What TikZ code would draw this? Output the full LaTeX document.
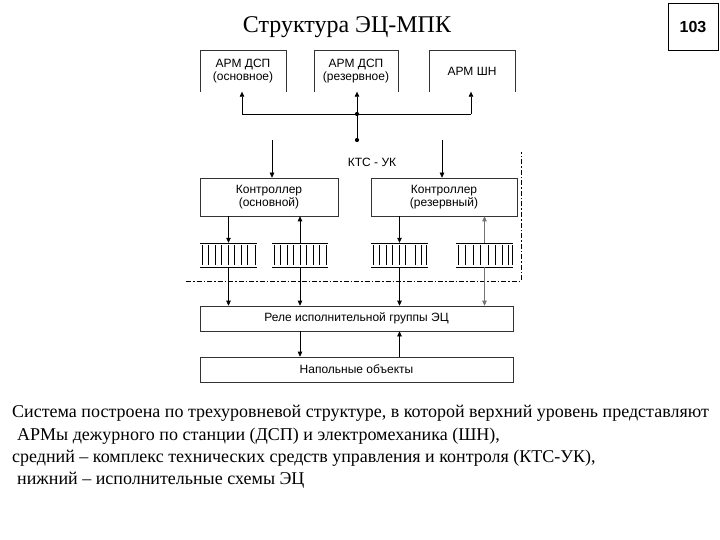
\documentclass[tikz,border=0pt]{standalone}
\usepackage{fontspec}
\setmainfont{Liberation Serif}
\newfontfamily\arial{Liberation Sans}
\usetikzlibrary{arrows.meta}
\begin{document}
\begin{tikzpicture}[x=1pt,y=-1pt,
  lbl/.style={font=\arial\fontsize{12}{13.5}\selectfont, align=center, inner sep=0pt},
  box/.style={lbl, draw=black!80, line width=0.6pt},
  openbox/.style={lbl},
  arr/.style={-{Triangle[length=5pt,width=4.5pt]}, line width=0.6pt},
  ln/.style={line width=0.6pt},
  reg/.style={inner sep=0pt, minimum height=24pt},
  para/.style={anchor=west, inner sep=0pt, font=\fontsize{18}{20}\selectfont},
  dot/.style={circle, fill=black, inner sep=0pt, minimum size=4.2pt}
]
\useasboundingbox (0,0) rectangle (720,540);

% title and page number
\node[font=\fontsize{24}{26}\selectfont, inner sep=0pt] (title) at (347,27) {Структура ЭЦ-МПК};
\node[draw, line width=1pt, minimum width=50pt, minimum height=47pt, inner sep=0pt,
      font=\arial\bfseries\fontsize{16}{18}\selectfont] (pg) at (693,27) {103};

% ARM boxes (open at the bottom)
\node[openbox, minimum width=86pt, minimum height=41pt] (a1) at (243,71) {АРМ ДСП\\(основное)};
\node[openbox, minimum width=84pt, minimum height=41pt] (a2) at (356,71) {АРМ ДСП\\(резервное)};
\node[openbox, minimum width=86pt, minimum height=41pt] (a3) at (472,71) {АРМ ШН};
\foreach \n in {a1,a2,a3}{
  \draw[ln, draw=black!80] (\n.south west) -- (\n.north west) -- (\n.north east) -- (\n.south east);
}

% bus
\coordinate (j1) at (242,114);
\coordinate (j3) at (471,114);
\coordinate (jc) at (357,114);
\coordinate (kc) at (357,140);
\draw[ln] (j1) -- (j3);
\draw[arr] (j1) -- (j1 |- a1.south);
\draw[arr] (jc) -- (jc |- a2.south);
\draw[arr] (j3) -- (j3 |- a3.south);
\draw[ln] (jc) -- (kc);
\node[dot] (j) at (jc) {};
\node[dot] (k) at (kc) {};

\node[lbl] (kts) at (372,162) {КТС - УК};

% controllers
\node[box, minimum width=138pt, minimum height=38pt] (c1) at (269,197) {Контроллер\\(основной)};
\node[box, minimum width=146pt, minimum height=38pt] (c2) at (444,197) {Контроллер\\(резервный)};
\coordinate (t1) at (272,140);
\coordinate (t2) at (442,140);
\draw[arr] (t1) -- (t1 |- c1.north);
\draw[arr] (t2) -- (t2 |- c2.north);

% registers
\node[reg, minimum width=57pt] (r1) at (228.5,255) {};
\node[reg, minimum width=56pt] (r2) at (300,255) {};
\node[reg, minimum width=57pt] (r3) at (399.5,255) {};
\node[reg, minimum width=57pt] (r4) at (484.5,255) {};
\foreach \n in {r1,r2,r3,r4}{
  \draw[ln] (\n.north west) -- (\n.north east);
  \draw[ln] (\n.south west) -- (\n.south east);
}
\foreach \x in {202,208.5,215,221.5,228,234.5,241,247.5,255}
  \draw[line width=0.5pt] (\x,245) -- (\x,265);
\foreach \x in {274,280.5,287,293.5,300,306.5,313,319.5,326}
  \draw[line width=0.5pt] (\x,245) -- (\x,265);
\foreach \x in {373,379.5,386,392.5,399,405.5,415,421,426}
  \draw[line width=0.5pt] (\x,245) -- (\x,265);
\foreach \x in {458,465,473,480,488,495,502,508,512}
  \draw[line width=0.5pt] (\x,245) -- (\x,265);

% controller <-> registers
\draw[arr] (c1.south -| r1) -- (r1.north);
\draw[arr] (r2.north) -- (c1.south -| r2);
\draw[arr] (c2.south -| r3) -- (r3.north);
\draw[arr, draw=black!55] (r4.north) -- (c2.south -| r4);

% dash-dot boundary
\coordinate (d0) at (186,281);
\coordinate (d1) at (521,281);
\coordinate (d2) at (521,152);
\draw[line width=0.6pt, dash pattern=on 5pt off 2pt on 1.5pt off 2pt] (d0) -- (d1) -- (d2);

% relay and floor objects
\node[box, minimum width=313pt, minimum height=25pt] (rel) at (356.5,318.5) {Реле исполнительной группы ЭЦ};
\node[box, minimum width=313pt, minimum height=25pt] (fl) at (356.5,369.5) {Напольные объекты};
\draw[arr] (r1.south) -- (r1.south |- rel.north);
\draw[arr] (r2.south) -- (r2.south |- rel.north);
\draw[arr] (r3.south) -- (r3.south |- rel.north);
\draw[arr, draw=black!55] (r4.south) -- (r4.south |- rel.north);
\draw[arr] (rel.south -| r2) -- (fl.north -| r2);
\draw[arr] (fl.north -| r3) -- (rel.south -| r3);

% paragraph
\node[para] (p1) at (12,413) {Система построена по трехуровневой структуре, в которой верхний уровень представляют};
\node[para] (p2) at (17,436) {АРМы дежурного по станции (ДСП) и электромеханика (ШН),};
\node[para] (p3) at (12,458) {средний – комплекс технических средств управления и контроля (КТС-УК),};
\node[para] (p4) at (17,480) {нижний – исполнительные схемы ЭЦ};
\end{tikzpicture}
\end{document}
